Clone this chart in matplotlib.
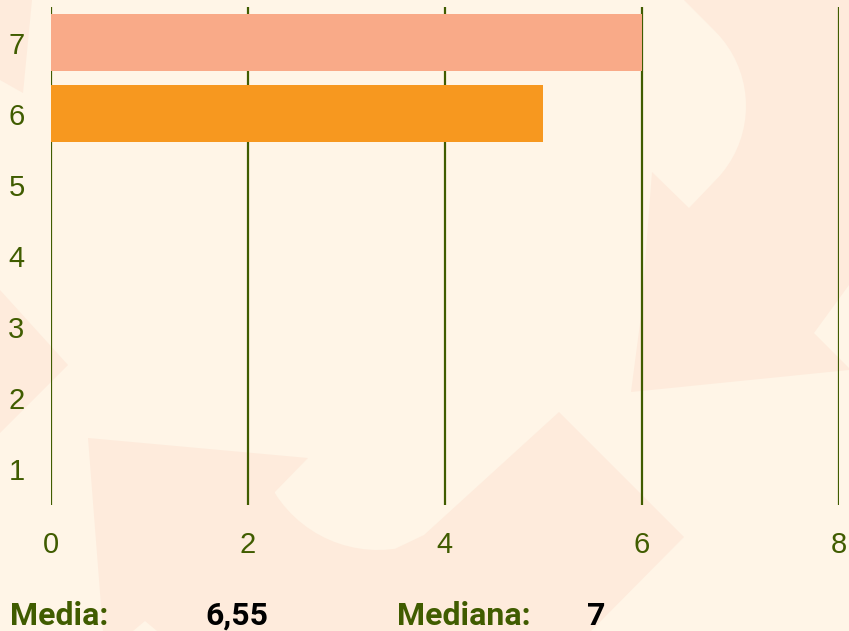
import numpy as np
import matplotlib
matplotlib.use("Agg")
import matplotlib.pyplot as plt
from matplotlib.patches import Polygon

# valori
categorie = [1, 2, 3, 4, 5, 6, 7]
valori = [0, 0, 0, 0, 0, 5, 6]
colori = ["#F9AA88", "#F9AA88", "#F9AA88", "#F9AA88", "#F9AA88", "#F7981F", "#F9AA88"]
xticks = [0, 2, 4, 6, 8]
media = "6,55"
mediana = "7"

verde = "#405C00"
sfondo = "#FFF5E7"
forma = "#FEEBDC"

plt.rcParams["font.family"] = ["Liberation Sans", "DejaVu Sans"]

fig = plt.figure(figsize=(8.49, 6.31), dpi=100, facecolor=sfondo)

# sfondo decorativo (frecce sbiadite), in pixel
bg = fig.add_axes([0, 0, 1, 1], zorder=-1)
bg.set_xlim(0, 849)
bg.set_ylim(631, 0)
bg.axis("off")
bg.set_facecolor(sfondo)

ang = np.radians(np.linspace(-46, 46, 20))
arco = [(640 + 106 * np.cos(a), 106 + 106 * np.sin(a)) for a in ang]
destra = [(684, 0), (849, 0), (849, 370), (631, 392), (641, 316), (652, 172),
          (689, 208)] + arco[::-1] + [(684, 0)]
ang2 = np.radians(np.linspace(150, 82, 15))
arco2 = [(378 + 122 * np.cos(a), 428 + 122 * np.sin(a)) for a in ang2]
sotto = [(88, 438), (308, 458), (272, 495)] + arco2 + [(424, 535), (559, 412), (684, 537),
                                                        (591, 631), (103, 631)]
forme_scure = [
    [(0, 0), (32, 0), (23, 93), (0, 80)],
    [(0, 290), (68, 365), (0, 433)],
    destra,
    sotto,
]
forme_chiare = [
    [(849, 285), (814, 333), (849, 368)],
    [(133, 631), (145, 621), (157, 631)],
]
for pts in forme_scure:
    bg.add_patch(Polygon(pts, closed=True, facecolor=forma, edgecolor="none"))
for pts in forme_chiare:
    bg.add_patch(Polygon(pts, closed=True, facecolor=sfondo, edgecolor="none"))

ax = fig.add_axes([0.060, 0.1997, 0.928, 0.789], zorder=1)
ax.patch.set_alpha(0)
ax.barh(categorie, valori, height=0.8, color=colori, zorder=2)

ax.set_xlim(0, 8)
ax.set_ylim(0.5, 7.5)
ax.set_xticks(xticks)
ax.set_yticks(categorie)
for s in ax.spines.values():
    s.set_visible(False)
ax.grid(axis="x", color=verde, linewidth=1.6, zorder=1)
ax.grid(axis="y", visible=False)
ax.tick_params(axis="both", length=0, labelsize=21, labelcolor=verde)
ax.tick_params(axis="x", pad=19)
ax.tick_params(axis="y", pad=19)

fam = ["Liberation Sans Narrow", "Roboto", "DejaVu Sans"]
y_testo = 0.01
fig.text(0.012, y_testo, "Media:", fontsize=23, fontweight="bold", family=fam, color=verde, va="baseline")
fig.text(0.2415, y_testo, media, fontsize=23, fontweight="bold", family=fam, color="black", va="baseline")
fig.text(0.4676, y_testo, "Mediana:", fontsize=23, fontweight="bold", family=fam, color=verde, va="baseline")
fig.text(0.691, y_testo, mediana, fontsize=23, fontweight="bold", family=fam, color="black", va="baseline")

fig.savefig("out.png", dpi=100, facecolor=sfondo)
